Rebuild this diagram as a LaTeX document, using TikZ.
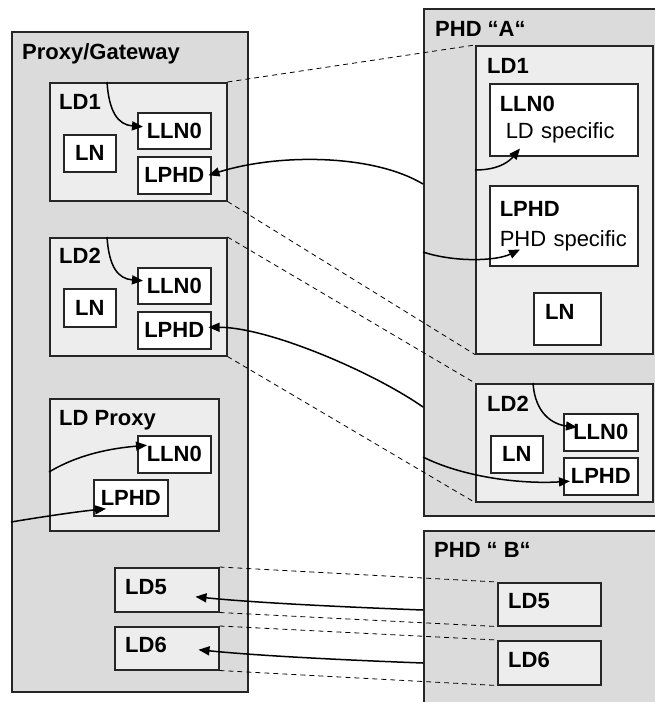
\documentclass[tikz,border=0pt]{standalone}
\usepackage{fontspec}
\setmainfont{Liberation Sans}
\usetikzlibrary{arrows.meta}

\begin{document}
\begin{tikzpicture}[x=1pt, y=-1pt, font=\fontsize{22}{28}\selectfont,
  gwbox/.style={draw=black!85, line width=1.5pt, fill=black!14, anchor=north west, inner sep=0pt},
  ldbox/.style={draw=black!85, line width=1.5pt, fill=black!7, anchor=north west, inner sep=0pt},
  lnbox/.style={draw=black!85, line width=1.5pt, fill=white, anchor=north west, inner sep=0pt, font=\fontsize{22}{28}\selectfont\bfseries},
  boxlabel/.style={anchor=base west, inner sep=0pt, font=\fontsize{22}{28}\selectfont\bfseries},
  msgline/.style={line width=1.5pt, -{Triangle[length=11pt,width=9pt]}},
  maplink/.style={line width=0.8pt, dash pattern=on 5pt off 4pt}]
\useasboundingbox (0,0) rectangle (655,702);
\clip (0,0) rectangle (655,702);

\node[gwbox, minimum width=236pt, minimum height=660pt] (gw) at (11,31) {};
\node[boxlabel] at ([shift={(11,28)}]gw.north west) {Proxy/Gateway};

\node[ldbox, minimum width=177pt, minimum height=118pt] (gwld1) at (49,82) {};
\node[boxlabel] at ([shift={(10,27)}]gwld1.north west) {LD1};
\node[lnbox, minimum width=52pt, minimum height=37pt] (gwln1) at (63,134) {LN};
\node[lnbox, minimum width=73pt, minimum height=36pt] (gwlln1) at (137,112) {LLN0};
\node[lnbox, minimum width=73pt, minimum height=37pt] (gwlphd1) at (137,156) {LPHD};

\node[ldbox, minimum width=177pt, minimum height=118pt] (gwld2) at (49,237) {};
\node[boxlabel] at ([shift={(10,26)}]gwld2.north west) {LD2};
\node[lnbox, minimum width=52pt, minimum height=38pt] (gwln2) at (63,288) {LN};
\node[lnbox, minimum width=73pt, minimum height=36pt] (gwlln2) at (137,267) {LLN0};
\node[lnbox, minimum width=73pt, minimum height=37pt] (gwlphd2) at (137,311) {LPHD};

\node[ldbox, minimum width=169pt, minimum height=132pt] (gwldp) at (49,398) {};
\node[boxlabel] at ([shift={(10,27)}]gwldp.north west) {LD Proxy};
\node[lnbox, minimum width=73pt, minimum height=37pt] (gwllnp) at (137,435) {LLN0};
\node[lnbox, minimum width=74pt, minimum height=36pt] (gwlphdp) at (93,479) {LPHD};

\node[ldbox, minimum width=104pt, minimum height=44pt] (gwld5) at (114,567) {};
\node[boxlabel] at ([shift={(11,27)}]gwld5.north west) {LD5};
\node[ldbox, minimum width=104pt, minimum height=43pt] (gwld6) at (114,626) {};
\node[boxlabel] at ([shift={(11,26)}]gwld6.north west) {LD6};

\node[gwbox, minimum width=250pt, minimum height=507pt] (phda) at (423,8) {};
\node[boxlabel] at ([shift={(12,28)}]phda.north west) {PHD “A“};

\node[ldbox, minimum width=177pt, minimum height=308pt] (ald1) at (475,45) {};
\node[boxlabel] at ([shift={(12,28)}]ald1.north west) {LD1};
\node[lnbox, minimum width=148pt, minimum height=72pt, align=left, text width=128pt, inner xsep=10pt, font=\fontsize{22}{27}\selectfont] (alln) at (489,83) {\textbf{LLN0}\\\hspace*{6pt}LD specific};
\node[lnbox, minimum width=148pt, minimum height=80pt, align=left, text width=128pt, inner xsep=10pt, font=\fontsize{22}{30}\selectfont] (alphd) at (489,185) {\textbf{LPHD}\\PHD specific};
\node[lnbox, minimum width=67pt, minimum height=52pt] (aln) at (533,292) {};
\node[boxlabel] at ([shift={(12,27)}]aln.north west) {LN};

\node[ldbox, minimum width=177pt, minimum height=118pt] (ald2) at (475,383) {};
\node[boxlabel] at ([shift={(12,28)}]ald2.north west) {LD2};
\node[lnbox, minimum width=52pt, minimum height=37pt] (aln2) at (490,435) {LN};
\node[lnbox, minimum width=74pt, minimum height=37pt] (alln2) at (563,413) {LLN0};
\node[lnbox, minimum width=74pt, minimum height=37pt] (alphd2) at (563,457) {LPHD};

\node[gwbox, minimum width=250pt, minimum height=200pt] (phdb) at (423,530) {};
\node[boxlabel] at ([shift={(11,27)}]phdb.north west) {PHD “ B“};
\node[ldbox, minimum width=103pt, minimum height=43pt] (bld5) at (497,582) {};
\node[boxlabel] at ([shift={(11,26)}]bld5.north west) {LD5};
\node[ldbox, minimum width=103pt, minimum height=44pt] (bld6) at (497,640) {};
\node[boxlabel] at ([shift={(11,27)}]bld6.north west) {LD6};

\draw[maplink] (gwld1.north east) -- (ald1.north west);
\draw[maplink] (gwld1.south east) -- (ald1.south west);
\draw[maplink] (gwld2.north east) -- (ald2.north west);
\draw[maplink] (gwld2.south east) -- (ald2.south west);
\draw[maplink] (gwld5.north east) -- (bld5.north west);
\draw[maplink] (gwld5.south east) -- (bld5.south west);
\draw[maplink] (gwld6.north east) -- (bld6.north west);
\draw[maplink] (gwld6.south east) -- (bld6.south west);

\draw[msgline] ([xshift=58pt]gwld1.north west) .. controls +(2,30) and +(-25,-2) .. ([xshift=6pt,yshift=4pt]gwlln1.west);
\draw[msgline] ([yshift=-176pt]phda.north west) .. controls +(-50,-30) and +(70,-22) .. ([xshift=-3pt]gwlphd1.east);
\draw[msgline] ([xshift=58pt]gwld2.north west) .. controls +(2,30) and +(-25,-2) .. ([xshift=6pt,yshift=5pt]gwlln2.west);
\draw[msgline] ([yshift=-399pt]phda.north west) .. controls +(-50,-35) and +(60,0) .. ([xshift=-3pt,yshift=3pt]gwlphd2.east);
\draw[msgline] ([yshift=-74pt]gwldp.north west) .. controls +(30,-18) and +(-35,3) .. ([xshift=10pt,yshift=9pt]gwllnp.west);
\draw[msgline] ([yshift=-491pt]gw.north west) .. controls +(30,-5) and +(-30,3) .. ([xshift=13pt,yshift=-11pt]gwlphdp.west);
\draw[msgline] ([yshift=-80pt]phdb.north west) .. controls +(-80,-3) and +(60,6) .. ([xshift=-24pt,yshift=-7pt]gwld5.east);
\draw[msgline] ([yshift=-133pt]phdb.north west) .. controls +(-80,-3) and +(60,6) .. ([xshift=-21pt,yshift=-1.5pt]gwld6.east);
\draw[msgline] ([yshift=-125pt]ald1.north west) .. controls +(25,0) and +(-10,12) .. ([xshift=31pt,yshift=8pt]alln.south west);
\draw[msgline] ([yshift=-244pt]phda.north west) .. controls +(30,10) and +(-25,12) .. ([xshift=31pt,yshift=17pt]alphd.south west);
\draw[msgline] ([xshift=58pt]ald2.north west) .. controls +(2,30) and +(-25,-3) .. ([xshift=14pt,yshift=5pt]alln2.west);
\draw[msgline] ([yshift=-449pt]phda.north west) .. controls +(40,20) and +(-50,3) .. ([xshift=7pt,yshift=-5pt]alphd2.west);
\end{tikzpicture}
\end{document}
